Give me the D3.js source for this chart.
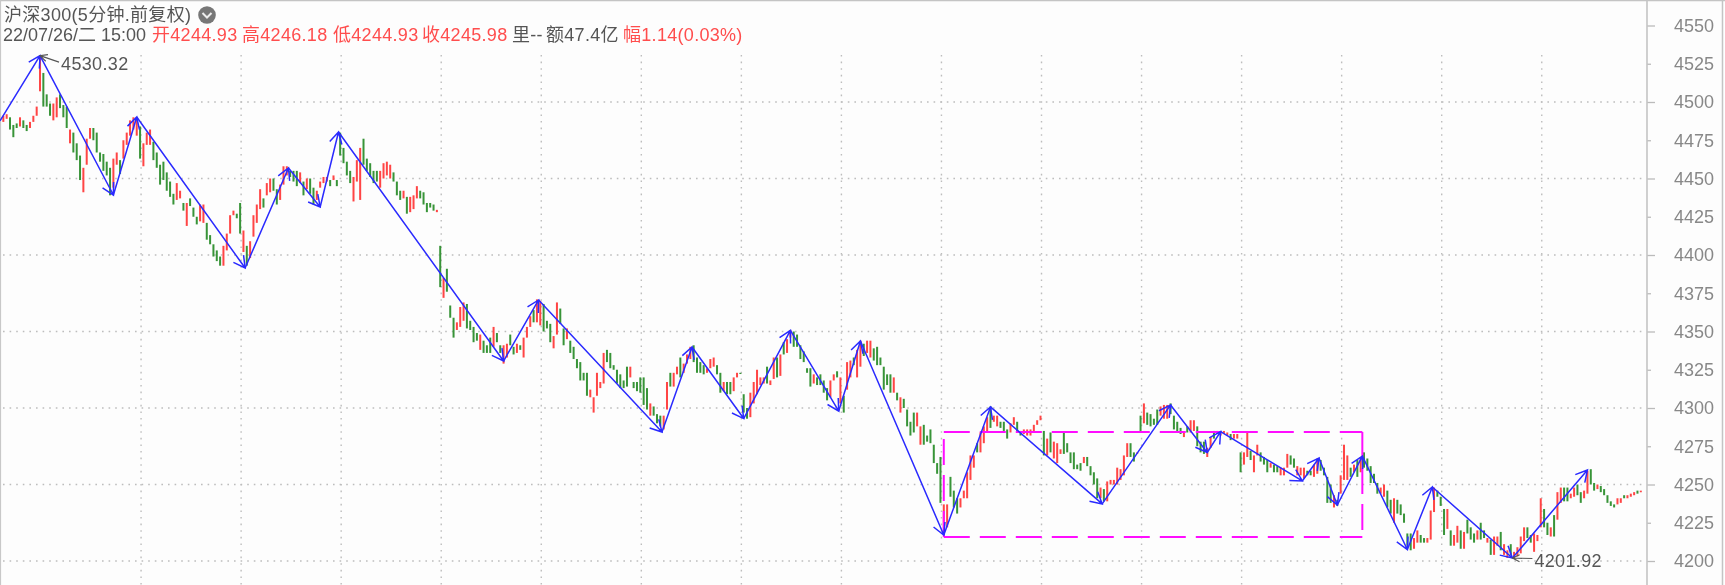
<!DOCTYPE html>
<html><head><meta charset="utf-8">
<script src="https://cdn.jsdelivr.net/npm/d3@7"></script>
<style>html,body{margin:0;padding:0;background:#fff;overflow:hidden}svg{display:block}
text{font-family:"Liberation Sans","Noto Sans CJK SC",sans-serif}</style></head><body>
<svg id="c" width="1725" height="585"></svg>
<script>
const titleText = "沪深300(5分钟.前复权)";
const infoDate = "22/07/26/二 15:00";
const infoRed = ["开4244.93","高4246.18","低4244.93","收4245.98"];
const infoDark = ["里--","额47.4亿"];
const infoChange = "幅1.14(0.03%)";
const yTicks = [4550,4525,4500,4475,4450,4425,4400,4375,4350,4325,4300,4275,4250,4225,4200];
const gridPrices = [4500,4450,4400,4350,4300,4250,4200];
const gridBars = [42,72,102,132,162,192,222,252,282,312,342,372,402,432,462];

// candle values, bars 1..492
const opens = [
4487,4489,4490,4485,4486,4484,4488,4485,4483,4487,
4491,4507,4519,4505,4499,4488,4490,4505,4498,4497,
4473,4480,4473,4465,4441,4459,4476,4483,4480,4467,
4466,4461,4457,4444,4459,4462,4463,4472,4478,4482,
4478,4484,4458,4472,4472,4474,4467,4459,4461,4454,
4448,4440,4436,4437,4434,4419,4437,4431,4425,4422,
4421,4421,4413,4407,4403,4399,4393,4403,4414,4426,
4427,4434,4402,4406,4398,4412,4421,4430,4437,4439,
4441,4450,4443,4436,4446,4452,4455,4455,4455,4447,
4448,4443,4450,4444,4436,4444,4447,4448,4449,4449,
4449,4480,4470,4461,4455,4435,4448,4436,4476,4463,
4460,4455,4455,4444,4450,4452,4450,4454,4448,4442,
4437,4438,4428,4430,4437,4442,4441,4434,4434,4433,
4428,4406,4372,4391,4367,4359,4351,4353,4357,4368,
4357,4353,4349,4338,4344,4341,4346,4340,4349,4341,
4329,4333,4348,4340,4336,4341,4333,4346,4353,4364,
4356,4354,4368,4357,4355,4339,4348,4365,4352,4345,
4344,4340,4332,4330,4323,4323,4307,4297,4308,4313,
4316,4338,4336,4328,4325,4322,4318,4327,4320,4317,
4317,4320,4320,4313,4295,4301,4296,4295,4286,4299,
4323,4314,4322,4333,4323,4329,4332,4341,4333,4330,
4328,4323,4326,4327,4328,4323,4311,4317,4317,4311,
4320,4323,4309,4300,4294,4303,4309,4315,4316,4327,
4315,4319,4333,4321,4343,4336,4346,4350,4348,4341,
4337,4326,4326,4316,4320,4322,4318,4313,4307,4318,
4324,4303,4308,4312,4320,4333,4320,4327,4342,4336,
4333,4339,4340,4333,4327,4322,4322,4310,4310,4297,
4306,4299,4291,4297,4288,4276,4289,4282,4286,4276,
4264,4268,4218,4222,4255,4246,4241,4235,4241,4241,
4253,4261,4277,4271,4277,4284,4301,4291,4288,4291,
4291,4286,4284,4289,4291,4285,4283,4282,4282,4285,
4289,4292,4285,4269,4284,4267,4264,4270,4284,4277,
4271,4271,4263,4264,4264,4268,4262,4258,4254,4241,
4247,4239,4250,4250,4250,4253,4256,4268,4277,4271,
4270,4295,4290,4297,4296,4293,4299,4295,4293,4293,
4303,4295,4291,4287,4281,4288,4284,4285,4288,4278,
4278,4268,4274,4285,4285,4282,4283,4282,4283,4280,
4280,4271,4263,4268,4272,4258,4269,4271,4268,4266,
4261,4263,4262,4256,4256,4261,4269,4267,4256,4256,
4254,4259,4259,4255,4257,4266,4261,4255,4250,4235,
4240,4244,4253,4253,4261,4258,4266,4258,4271,4267,
4262,4257,4251,4244,4242,4246,4240,4225,4240,4237,
4231,4218,4218,4208,4212,4217,4215,4212,4214,4232,
4246,4242,4234,4221,4220,4210,4212,4220,4208,4227,
4222,4218,4214,4225,4220,4212,4214,4204,4210,4219,
4204,4202,4211,4202,4203,4205,4213,4222,4217,4206,
4213,4222,4234,4225,4216,4230,4227,4238,4248,4248,
4241,4242,4250,4245,4241,4244,4260,4251,4247,4249,
4247,4243,4239,4237,4237,4238,4243,4241,4242,4243,
4246,4244.93];
const closes = [
4491,4492,4482,4477,4483,4490,4483,4481,4487,4491,
4497,4530,4497,4497,4491,4499,4503,4496,4490,4483,
4482,4467,4462,4449,4457,4476,4483,4475,4467,4461,
4455,4452,4439,4463,4467,4453,4475,4480,4488,4490,
4490,4463,4473,4480,4482,4462,4457,4446,4449,4442,
4438,4433,4447,4442,4429,4434,4432,4425,4420,4433,
4433,4410,4407,4399,4396,4393,4406,4414,4426,4429,
4424,4414,4416,4393,4409,4426,4433,4443,4431,4447,
4450,4442,4433,4446,4458,4458,4451,4448,4445,4454,
4439,4450,4440,4433,4442,4448,4451,4451,4445,4452,
4445,4465,4460,4452,4447,4451,4462,4470,4459,4455,
4451,4447,4448,4455,4460,4461,4459,4448,4439,4436,
4442,4427,4438,4439,4445,4437,4433,4428,4431,4429,
4429.5,4379,4385,4376,4359,4346,4356,4366,4369,4352,
4351,4343,4344,4348,4336,4336,4336,4353,4343,4336,
4341,4342,4341,4335,4342,4338,4346,4353,4360,4356,
4371,4370,4350,4352,4343,4347,4369,4355,4341,4352,
4336,4332,4326,4318,4318,4308,4312,4307,4323,4317,
4336,4330,4326,4325,4316,4313,4313,4314,4327,4313,
4311,4310,4302,4299,4303,4295,4290,4288,4295,4317,
4314,4323,4327,4320,4329,4335,4340,4330,4323,4323,
4322,4326,4332,4333,4322,4310,4317,4309,4309,4320,
4323,4322.5,4297,4293,4310,4317,4325,4320,4320,4316,
4318,4333,4320,4335,4335,4345,4351,4340,4340,4332,
4330,4323,4314,4322,4315,4315,4310,4305,4318,4322,
4320,4320,4297,4330,4331,4328,4338,4344,4334,4344,
4344,4331,4328,4328,4312,4315,4310,4320,4305,4307,
4300,4288,4282,4284,4297,4288,4276,4278,4277,4264,
4257,4238,4237,4237,4242,4235,4231,4241,4246,4258,
4269,4269,4271,4284,4288,4294,4287,4295,4295,4287,
4285,4280,4290,4294,4284,4282,4286,4286,4286,4289,
4292,4295,4269,4280,4271,4278,4277,4273,4270,4271,
4264,4260,4260,4259,4268,4262,4256,4250,4241,4248,
4239,4252,4253,4253,4261,4260,4269,4277,4268,4265,
4271,4284,4303,4289,4288,4289,4289,4301,4302,4302,
4296,4286,4284,4283,4284,4284,4292,4292,4275,4271,
4270,4274,4281,4280,4283,4285,4285,4284,4279,4283,
4283,4258,4271,4284,4266,4269,4276,4265,4263,4258,
4264,4258,4258,4261,4261,4270,4263,4261,4262,4261,
4261,4256,4256,4263,4267,4259,4256,4238,4238,4243,
4236,4256,4276,4269,4255,4263,4255,4268,4261,4259,
4251,4251,4244,4248,4250,4235,4231,4241,4231,4230,
4225,4210,4207,4215,4220,4212,4212,4215,4233,4248,
4242,4236,4217,4234,4210,4217,4223,4208,4219,4218,
4214,4212,4220,4214,4215,4215,4204,4216,4216,4207,
4211,4207,4204,4206,4209,4216,4222,4215,4212,4218,
4217,4241,4222,4217,4222,4216,4245,4248,4239,4239,
4244,4248,4243,4238,4246,4259,4250,4246,4250,4245,
4243,4238,4236,4235,4241,4241,4241,4243,4244,4245,
4244,4245.98];

// zigzag wave vertices
const zigBars = [0,12,34,41,73.5,86.5,96,101.5,151,161.5,198.5,207.5,223,237,251.5,258,283,297,330.5,351,362,366,390.5,395.5,401,408.5,422,429.5,453.5,476];
const zigPrices = [4487.6,4530.32,4439.2,4490.2,4391.5,4456.9,4431.4,4480.4,4330.7,4370.6,4284.3,4339.9,4293.1,4350.7,4298,4343.8,4217,4300.7,4237.3,4302,4270.9,4284.6,4252.3,4267.3,4236.6,4268.6,4207.5,4248.4,4201.92,4259.5];
// drawn box
const boxBars = [283,408.5];
const boxPrices = [4284.3,4215.7];
const extremes = [{bar:12,price:4530.32,label:"4530.32"},{bar:453.5,price:4201.92,label:"4201.92"}];

const root = d3.select("#c");
root.append("defs").append("filter").attr("id","soft")
  .attr("x",0).attr("y",0).attr("width",1).attr("height",1).attr("filterUnits","objectBoundingBox")
  .append("feGaussianBlur").attr("stdDeviation",0.4);
const svg = root.append("g").attr("filter","url(#soft)");
const x = d3.scaleLinear().domain([0,492]).range([0,1640.8]);
const y = d3.scaleLinear().domain([4550,4200]).range([25.5,561]);
const AX = 1647;

svg.append("rect").attr("width",1725).attr("height",585).attr("fill","#fdfdfd");
svg.append("rect").attr("x",1722).attr("width",3).attr("height",585).attr("fill","#fff");

// grid
svg.append("g").selectAll("line").data(gridPrices).join("line")
  .attr("x1",3).attr("x2",AX-3).attr("y1",d=>y(d)).attr("y2",d=>y(d))
  .attr("stroke","#bdbdbd").attr("stroke-width",1.4).attr("stroke-dasharray","1.6 5");
svg.append("g").selectAll("line").data(gridBars).join("line")
  .attr("x1",d=>x(d)+1).attr("x2",d=>x(d)+1).attr("y1",55).attr("y2",585)
  .attr("stroke","#bdbdbd").attr("stroke-width",1.4).attr("stroke-dasharray","1.6 5");

// frame
svg.append("line").attr("x1",0).attr("x2",1725).attr("y1",.5).attr("y2",.5).attr("stroke","#c4c4c4").attr("stroke-width",1.5);
svg.append("line").attr("x1",.5).attr("x2",.5).attr("y1",0).attr("y2",585).attr("stroke","#c8c8c8").attr("stroke-width",1.2);
svg.append("line").attr("x1",1722.5).attr("x2",1722.5).attr("y1",0).attr("y2",585).attr("stroke","#c4c4c4").attr("stroke-width",1.5);

// candles
const bars = opens.map((o,i)=>({i:i+1,o,c:closes[i]}));
svg.append("g").selectAll("rect").data(bars).join("rect")
  .attr("x",d=>x(d.i)-1).attr("width",2)
  .attr("y",d=>y(Math.max(d.o,d.c)))
  .attr("height",d=>Math.max(1.2,Math.abs(y(d.o)-y(d.c))))
  .attr("fill",d=>d.c>=d.o?"#ff4444":"#389438");

// dashed box
const bx0=x(boxBars[0]),bx1=x(boxBars[1]),by0=y(boxPrices[0]),by1=y(boxPrices[1]);
const boxG = svg.append("g").attr("stroke","#ff10ff").attr("stroke-width",2).attr("fill","none").attr("stroke-dasharray","26 10");
[[bx0,by0,bx1,by0],[bx0,by1,bx1,by1],[bx1,by0,bx1,by1],[bx0,by1,bx0,by0]].forEach(s=>
  boxG.append("line").attr("x1",s[0]).attr("y1",s[1]).attr("x2",s[2]).attr("y2",s[3]));

// zigzag with open arrowheads
const zig = zigBars.map((b,i)=>[x(b),y(zigPrices[i])]);
const arrowPath = (a,b,len,ang)=>{
  const t=Math.atan2(b[1]-a[1],b[0]-a[0]);
  const p=s=>[b[0]-len*Math.cos(t+s*ang),b[1]-len*Math.sin(t+s*ang)];
  return `M${a}L${b}M${p(1)}L${b}L${p(-1)}`;
};
svg.append("g").selectAll("path").data(d3.pairs(zig)).join("path")
  .attr("d",d=>arrowPath(d[0],d[1],13,0.5))
  .attr("fill","none").attr("stroke","#2a2aff").attr("stroke-width",1.5);

// extreme labels
extremes.forEach((e,k)=>{
  const px=x(e.bar),py=y(e.price);
  const end = k===0 ? [px+19,py+6.5] : [px+20,py+0.5];
  svg.append("path").attr("d",arrowPath(end,[px,py],8,0.45)).attr("fill","none").attr("stroke","#555").attr("stroke-width",1.1);
  svg.append("text").attr("x",end[0]+2).attr("y",py+(k===0?8:3)).attr("dy","0.35em").attr("font-size",18).attr("letter-spacing",0.35).attr("fill","#555").text(e.label);
});

// axis
const axis = d3.axisRight(y).tickValues(yTicks).tickSize(0).tickPadding(27).tickFormat(d3.format("d"));
const ag = svg.append("g").attr("transform",`translate(${AX},0)`).call(axis);
ag.select(".domain").remove();
ag.selectAll(".tick text").attr("font-size",18).attr("fill","#888").attr("font-family",'"Liberation Sans"').attr("text-anchor","end").attr("x",67);
ag.selectAll(".tick").append("line").attr("x1",0).attr("x2",d=>d%50===0?8:4).attr("y1",0).attr("y2",0).attr("stroke","#bbb").attr("stroke-width",1.3);
svg.append("line").attr("x1",AX).attr("x2",AX).attr("y1",0).attr("y2",585).attr("stroke","#c4c4c4").attr("stroke-width",1.6);

// header
const header = svg.append("g").attr("letter-spacing",0.3);
header.append("text").attr("x",4).attr("y",21).attr("font-size",18).attr("fill","#555").text(titleText);
svg.append("circle").attr("cx",207).attr("cy",15).attr("r",8.8).attr("fill","#777");
svg.append("path").attr("d","M202.5 13 L207 17.5 L211.5 13").attr("fill","none").attr("stroke","#eee").attr("stroke-width",2);
const row = 41;
header.append("text").attr("x",3).attr("y",row).attr("font-size",18).attr("letter-spacing",0).attr("fill","#555").text(infoDate);
const redX=[152,242,333,422];
infoRed.forEach((t,i)=>header.append("text").attr("x",redX[i]).attr("y",row).attr("font-size",18).attr("fill","#ff4d4d").text(t));
const darkX=[512,546];
infoDark.forEach((t,i)=>header.append("text").attr("x",darkX[i]).attr("y",row).attr("font-size",18).attr("fill","#555").text(t));
header.append("text").attr("x",623).attr("y",row).attr("font-size",18).attr("fill","#ff4d4d").text(infoChange);
</script></body></html>
